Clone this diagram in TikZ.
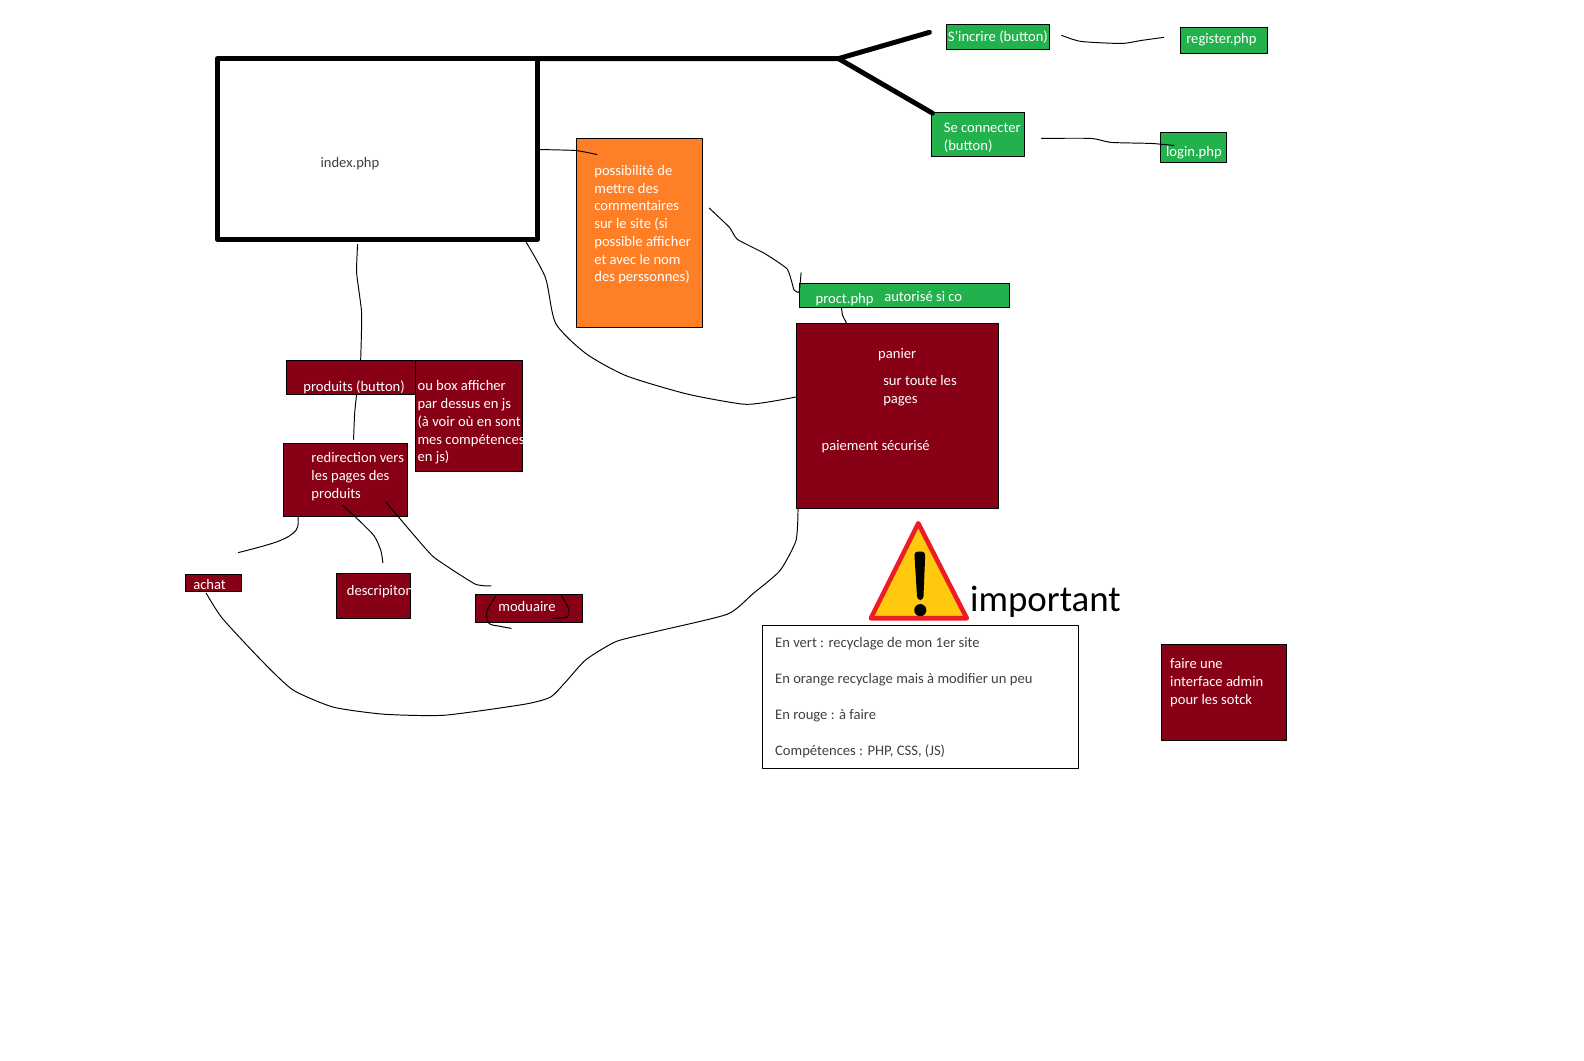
\documentclass[tikz,border=0pt]{standalone}
\usepackage{fontspec}
\setmainfont{Carlito}
\definecolor{paintred}{HTML}{880015}
\definecolor{paintgreen}{HTML}{22B14C}
\definecolor{paintorange}{HTML}{FF7F27}
\definecolor{warnyellow}{HTML}{FFC90E}
\definecolor{warnred}{HTML}{ED1C24}
\definecolor{graytext}{HTML}{404040}
\begin{document}
\begin{tikzpicture}[x=0.0202cm,y=-0.0202cm,line join=round,line cap=round,
		areabox/.style={draw=black,line width=0.55pt,anchor=north west,inner sep=0pt,outer sep=0pt},
		lbl/.style={anchor=west,inner sep=0pt,align=left,yshift=-0.8pt,text=white,font=\fontsize{8.3}{10.1}\selectfont},
		graylbl/.style={lbl,text=graytext},
		wire/.style={line width=0.55pt,black},
		thick line/.style={line width=2.8pt,black}]
	\def\u{0.0202cm}
	\useasboundingbox (0,0) rectangle (1568,1049.5);
	% boxes
	\node[areabox,line width=2.8pt,minimum width=317*\u,minimum height=179*\u] (index) at (215,58) {};
	\node[areabox,fill=paintorange,minimum width=124*\u,minimum height=187*\u] (comments) at (571,137) {};
	\node[areabox,fill=white,minimum width=313*\u,minimum height=142*\u] (legend) at (755,619) {};
	\foreach \name/\x/\y/\w/\h in {signup/937/24/102/25,register/1168.5/27/86/26,signin/922/111/92/44,login/1148.5/131/66/30,proct/791/281/208/23}
		\node[areabox,fill=paintgreen,minimum width=\w*\u,minimum height=\h*\u] (\name) at (\x,\y) {};
	\foreach \name/\x/\y/\w/\h in {panier/788/320/200/183,produits/283.5/357/128/33.5,jsbox/411/357/106/109.5,redir/280.5/439/123/72.5,achat/183.5/569/56/16.5,descr/333/568/73/44,form/471/588/105.5/28,admin/1150/638/123/95}
		\node[areabox,fill=paintred,minimum width=\w*\u,minimum height=\h*\u] (\name) at (\x,\y) {};
	% free ends
	\coordinate (forkA) at (830,58);
	\coordinate (signupEnd) at (920,32);
	\coordinate (signinEnd) at (923,112);
	\coordinate (signupOut) at (1051,35);
	\coordinate (registerIn) at (1152,37);
	\coordinate (signinOut) at (1031,137);
	\coordinate (loginIn) at (1162,144);
	\coordinate (idxRight) at (533,148);
	\coordinate (commIn) at (591,153);
	\coordinate (commOut) at (702,206);
	\coordinate (idxLow) at (521,240);
	\coordinate (idxDown) at (354,242);
	\coordinate (redirIn) at (350,435);
	\coordinate (achatEnd) at (236,547);
	\coordinate (achatOut) at (204,587);
	\coordinate (descrEnd) at (379,557);
	\coordinate (formEnd) at (486,580);
	% thick lines
	\draw[thick line] (index.north east) -- (forkA) -- (signupEnd);
	\draw[thick line] (forkA) -- (signinEnd);
	% hand drawn lines
	\draw[wire] plot[smooth,tension=0.4] coordinates {(signupOut) (1070,41) (1110,43) (1130,40) (registerIn)};
	\draw[wire] plot[smooth,tension=0.3] coordinates {(signinOut) (1080,137) (1100,141) (1140,142) (loginIn)};
	\draw[wire] plot[smooth,tension=0.3] coordinates {(idxRight) (570,149) (commIn)};
	\draw[wire] plot[smooth,tension=0.3] coordinates {(commOut) (722,225) (730,237) (757,251) (779,266) (784,280) (786,287) (791,289) (793,270)};
	\draw[wire] plot[smooth,tension=0.3] coordinates {(833,304) (834,312) (838,320)};
	\draw[wire] plot[smooth,tension=0.4] coordinates {(idxLow) (540,275) (550,320) (580,350) (620,372) (680,390) (735,400) (760,398) (panier.west |- 0,393)};
	\draw[wire] plot[smooth,tension=0.3] coordinates {(idxDown) (353,270) (358,310) (357,357)};
	\draw[wire] plot[smooth,tension=0.3] coordinates {(353,390) (351,410) (redirIn)};
	\draw[wire] plot[smooth,tension=0.6] coordinates {(295,512) (293,525) (275,536) (achatEnd)};
	\draw[wire] plot[smooth,tension=0.4] coordinates {(339,500) (350,510) (370,530) (377,545) (descrEnd)};
	\draw[wire] plot[smooth,tension=0.3] coordinates {(382,497) (410,530) (430,552) (470,578) (formEnd)};
	\draw[wire] plot[smooth,tension=0.35] coordinates {(achatOut) (220,612) (260,655) (290,683) (330,700) (380,707) (440,708) (520,697) (545,690) (560,675) (580,653) (610,635) (650,625) (720,608) (745,588) (772,565) (788,535) (790,503)};
	\draw[wire] plot[smooth,tension=0.5] coordinates {(491,590) (482,605) (484,617) (495,620) (506,622)};
	\draw[wire] plot[smooth,tension=0.5] coordinates {(556,590) (563,603) (561,611) (548,612)};
	% warning sign
	\draw[draw=warnred,fill=warnyellow,line width=2.6pt] (909,518) -- (957,612) -- (862,612) -- cycle;
	\fill[black,rounded corners=2pt] (905,546) -- (916,546) -- (914,594) -- (908,594) -- cycle;
	\fill[black] (911,604) circle (6);
	% labels
	\node[graylbl] (indexT) at (317,161) {index.php};
	\node[lbl] (signupT) at (938,35) {S'incrire (button)};
	\node[lbl] (registerT) at (1174,38) {register.php};
	\node[lbl] (signinT) at (934,135) {Se connecter\\(button)};
	\node[lbl] (loginT) at (1154,150) {login.php};
	\node[lbl] (proctT) at (807,295) {proct.php};
	\node[lbl] (autoT) at (875,292) {autorisé si co};
	\node[lbl] (panierT) at (869,350) {panier};
	\node[lbl] (pagesT) at (874,385) {sur toute les\\pages};
	\node[lbl] (payT) at (813,441) {paiement sécurisé};
	\node[lbl] (commT) at (588,221) {possibilité de\\mettre des\\commentaires\\sur le site (si\\possible afficher\\et avec le nom\\des perssonnes)};
	\node[lbl] (produitsT) at (300,382) {produits (button)};
	\node[lbl] (jsT) at (413,417) {ou box afficher\\par dessus en js\\(à voir où en sont\\mes compétences\\en js)};
	\node[lbl] (redirT) at (308,470.5) {redirection vers\\les pages des\\produits};
	\node[lbl] (achatT) at (191,577) {achat};
	\node[lbl] (descrT) at (343,584) {descripiton};
	\node[lbl] (formT) at (493,598.5) {moduaire};
	\node[lbl] (adminT) at (1158,674.5) {faire une\\interface admin\\pour les sotck};
	\node[graylbl] (leg1) at (767,636) {En vert : recyclage de mon 1er site};
	\node[graylbl] (leg2) at (767,671) {En orange recyclage mais à modifier un peu};
	\node[graylbl] (leg3) at (767,707) {En rouge : à faire};
	\node[graylbl] (leg4) at (767,742) {Compétences : PHP, CSS, (JS)};
	\node[anchor=west,inner sep=0pt,font=\fontsize{21}{25}\selectfont] (importantT) at (960,596) {important};
\end{tikzpicture}
\end{document}
